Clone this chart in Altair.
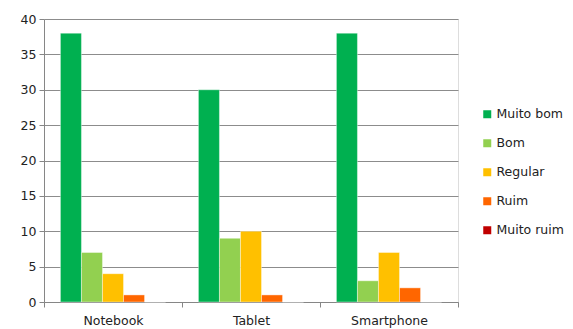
import altair as alt
import pandas as pd

categories = ["Notebook", "Tablet", "Smartphone"]
series = ["Muito bom", "Bom", "Regular", "Ruim", "Muito ruim"]
muito_bom = [38, 30, 38]
bom = [7, 9, 3]
regular = [4, 10, 7]
ruim = [1, 1, 2]
muito_ruim = [0, 0, 0]
colors = ["#00B050", "#92D050", "#FFC000", "#FF6600", "#C00000"]

rows = []
for s, vals in zip(series, [muito_bom, bom, regular, ruim, muito_ruim]):
    for c, v in zip(categories, vals):
        rows.append({"cat": c, "serie": s, "valor": v})
df = pd.DataFrame(rows)

font = "DejaVu Sans"

chart = alt.Chart(df).mark_bar(stroke="white", strokeWidth=0.4).encode(
    x=alt.X("cat:N", sort=categories, title=None,
            scale=alt.Scale(paddingInner=0, paddingOuter=0),
            axis=alt.Axis(labelAngle=0, tickBand="extent", domainColor="#868686",
                          tickColor="#868686", tickSize=5, labelFont=font,
                          labelFontSize=12.5, labelColor="#222222", labelPadding=7,
                          grid=False)),
    xOffset=alt.XOffset("serie:N", sort=series,
                        scale=alt.Scale(paddingInner=0, paddingOuter=0.78)),
    y=alt.Y("valor:Q", title=None,
            scale=alt.Scale(domain=[0, 40]),
            axis=alt.Axis(values=[0, 5, 10, 15, 20, 25, 30, 35, 40], grid=True,
                          gridColor="#8c8c8c", gridWidth=1, domainColor="#868686",
                          tickColor="#868686", tickSize=5, labelFont=font,
                          labelFontSize=12.5, labelColor="#222222", labelPadding=3)),
    color=alt.Color("serie:N", sort=series,
                    scale=alt.Scale(domain=series, range=colors),
                    legend=alt.Legend(title=None, orient="none", legendX=437, legendY=89,
                                      symbolType="square", symbolSize=64,
                                      symbolStrokeWidth=0, labelFont=font,
                                      labelFontSize=12.5, labelColor="#222222",
                                      rowPadding=16, labelOffset=3)),
).properties(
    width=414, height=283,
    autosize=alt.AutoSizeParams(type="none"),
    padding={"left": 44, "top": 19, "right": 115, "bottom": 27},
).configure_view(stroke=None).configure(background="white")

chart.save("out.html", embed_options={"renderer": "svg", "actions": False})
